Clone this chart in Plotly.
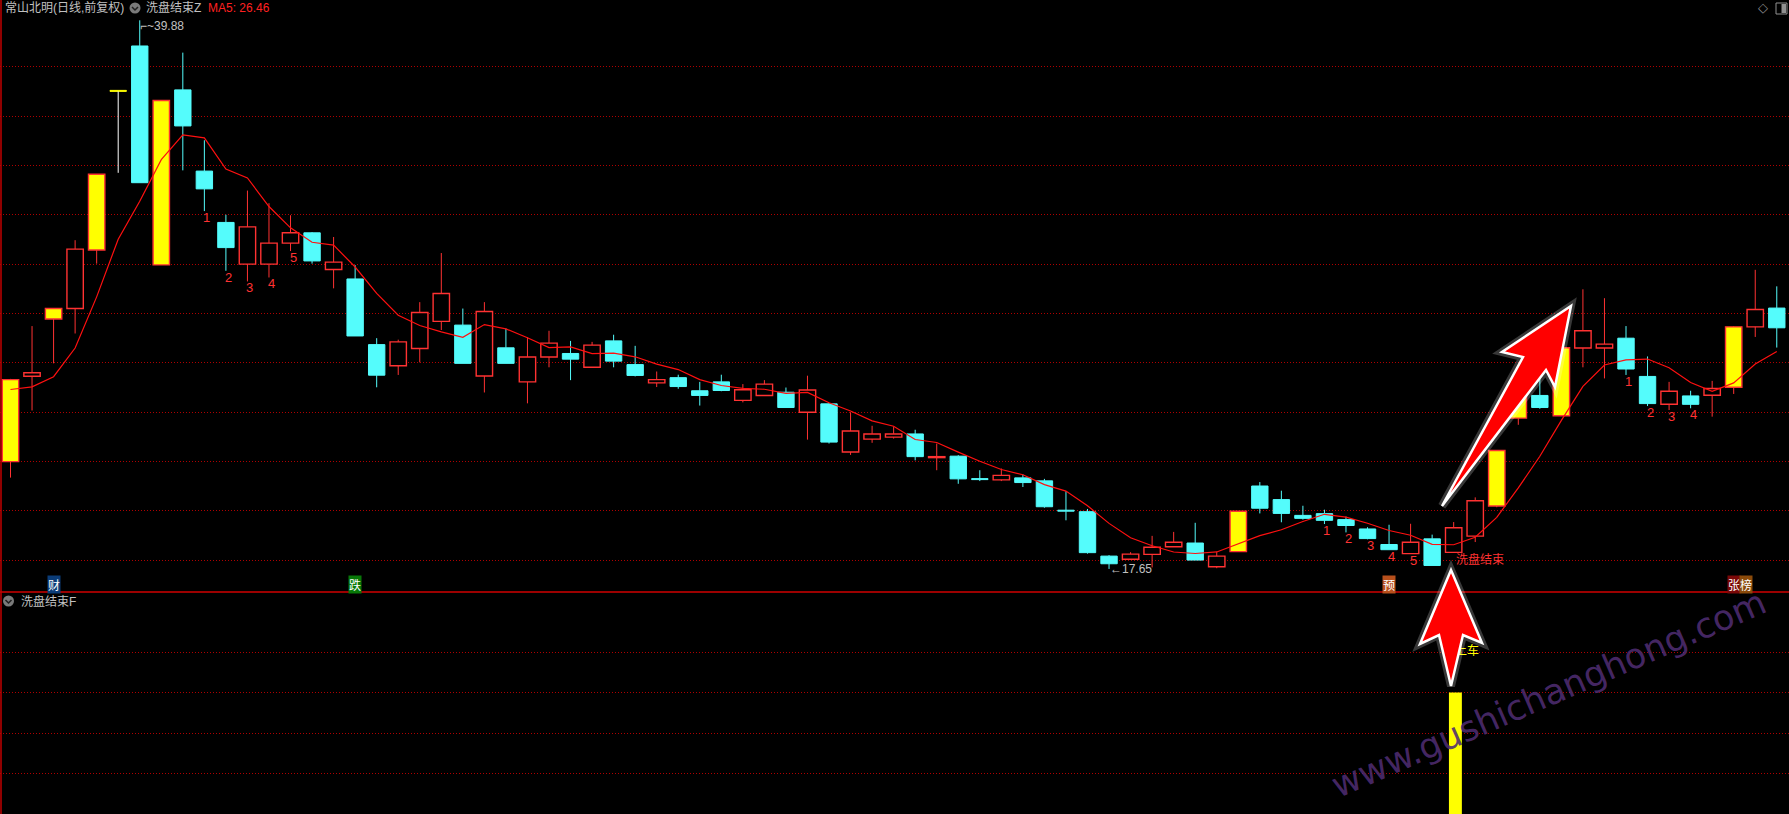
import numpy as np
import plotly.graph_objects as go

W, H = 1789, 814

# ---------------- data ----------------
open_ = [22.00, 25.46, 27.78, 28.20, 30.57, 37.00, 38.84, 29.97, 37.06, 33.77,
         31.69, 30.00, 30.00, 30.85, 31.27, 29.78, 29.40, 26.74, 25.88, 26.58,
         27.68, 27.53, 25.47, 26.61, 25.23, 26.24, 26.38, 25.82, 26.89, 25.93,
         25.19, 25.40, 24.87, 25.23, 24.48, 24.68, 24.81, 24.00, 24.34, 22.39,
         22.91, 22.99, 23.12, 22.16, 22.22, 21.29, 21.26, 21.34, 21.22, 20.02,
         19.97, 18.17, 18.04, 18.24, 18.55, 18.70, 17.74, 18.35, 21.01, 20.46,
         19.82, 19.89, 19.65, 19.27, 18.64, 18.27, 18.87, 18.32, 18.98, 20.20,
         23.76, 24.68, 23.86, 26.60, 26.60, 27.00, 25.45, 24.32, 24.66, 24.69,
         25.01, 27.46, 28.22]
high = [25.35, 27.49, 28.20, 30.97, 33.64, 37.00, 39.88, 36.63, 38.57, 35.02,
        32.00, 32.98, 32.47, 31.98, 31.30, 31.10, 29.96, 27.00, 26.94, 28.46,
        30.45, 28.20, 28.46, 27.39, 27.04, 27.30, 26.89, 26.85, 27.14, 26.69,
        25.65, 25.52, 25.23, 25.52, 25.14, 25.30, 25.00, 25.48, 24.36, 24.00,
        23.45, 23.42, 23.29, 22.73, 22.26, 21.65, 21.72, 21.48, 21.30, 20.80,
        20.08, 18.21, 18.33, 18.99, 19.15, 19.52, 18.35, 19.99, 21.17, 20.82,
        20.21, 20.05, 19.77, 19.34, 19.44, 19.48, 19.04, 19.55, 20.55, 22.45,
        24.70, 25.38, 26.61, 28.98, 28.62, 27.49, 26.26, 25.23, 24.87, 25.27,
        27.49, 29.77, 29.10]
low = [21.35, 24.07, 25.98, 27.19, 30.02, 33.70, 33.30, 29.97, 33.80, 32.15,
       29.73, 29.30, 29.46, 30.53, 30.02, 29.02, 27.09, 25.01, 25.51, 26.02,
       27.33, 25.98, 24.80, 25.98, 24.36, 25.82, 25.30, 25.82, 25.82, 25.45,
       25.02, 24.95, 24.27, 24.85, 24.40, 24.68, 24.19, 22.89, 22.73, 22.27,
       22.76, 22.93, 22.05, 21.65, 21.10, 21.21, 21.21, 20.97, 20.13, 19.62,
       18.27, 17.65, 18.04, 17.71, 18.55, 18.01, 17.68, 18.35, 19.90, 19.54,
       19.65, 19.47, 19.13, 18.85, 18.43, 18.27, 17.79, 18.32, 18.74, 20.15,
       23.49, 24.14, 23.86, 25.82, 25.37, 25.51, 24.25, 24.09, 24.16, 23.82,
       24.74, 27.05, 26.62]
close = [25.32, 25.60, 28.20, 30.61, 33.64, 37.00, 33.30, 36.63, 35.60, 33.05,
         30.67, 31.51, 30.85, 31.27, 30.13, 30.08, 27.09, 25.50, 26.85, 28.04,
         28.81, 25.98, 28.08, 25.98, 26.24, 26.80, 26.15, 26.72, 26.07, 25.49,
         25.32, 25.04, 24.68, 24.88, 24.91, 25.14, 24.19, 24.90, 22.79, 23.24,
         23.12, 23.12, 22.20, 22.18, 21.30, 21.27, 21.44, 21.15, 20.17, 19.99,
         18.31, 17.86, 18.25, 18.53, 18.73, 18.01, 18.17, 19.99, 20.11, 19.90,
         19.70, 19.62, 19.41, 18.88, 18.43, 18.73, 17.79, 19.32, 20.41, 22.45,
         24.70, 24.19, 26.61, 27.30, 26.76, 25.75, 24.35, 24.85, 24.32, 24.96,
         27.46, 28.16, 27.42]
prior_close = [25.05, 26.15, 24.81, 23.27]          # closes before the first bar (for MA5)
highlight_days = [0, 2, 4, 7, 57, 69, 70, 72, 80]   # yellow (limit-up) bars
count_idx = [9, 10, 11, 12, 13, 61, 62, 63, 64, 65, 75, 76, 77, 78]
count_txt = ['1', '2', '3', '4', '5', '1', '2', '3', '4', '5', '1', '2', '3', '4']
signal_idx = [2, 16, 64, 80]
signal_txt = ['财', '跌', '预', '张榜']
wash_idx = 67
wash_txt = '洗盘结束'
sub_idx = [67]
sub_val = [3]
sub_txt_val = 4
sub_txt = '上车'
title_txt = '常山北明(日线,前复权)'
ind_main = '洗盘结束Z'
ind_sub = '洗盘结束F'
watermark = 'www.gushichanghong.com'

# ---------------- styles ----------------
RED = '#ff3232'
CYAN = '#54fcfc'
YEL = '#ffff00'
GRID = '#b00000'
TXT = '#c0c0c0'

X0, DX = 10.5, 21.54
PPU = 24.68          # pixels per price unit
G38 = 66.7           # pixel row of price 38
SPLIT = 592          # pixel row of panel separator

def px(xp):
    return xp / W

def py(yp):
    return 1 - yp / H

o, h, l, c = map(np.array, (open_, high, low, close))
n = len(c)
xi = np.arange(n)
ma5 = np.convolve(np.concatenate([prior_close, c]), np.ones(5) / 5, mode='valid')

hl = set(highlight_days)
groups = {'up': [], 'down': [], 'yel': [], 'flat': []}
for i in range(n):
    if i in hl:
        groups['yel'].append(i)
    elif c[i] > o[i]:
        groups['up'].append(i)
    elif c[i] < o[i]:
        groups['down'].append(i)
    else:
        groups['flat'].append(i)

fig = go.Figure()

# wicks
wick = {RED: ([], []), CYAN: ([], []), '#ffffff': ([], [])}
for i in range(n):
    lo_b, hi_b = min(o[i], c[i]), max(o[i], c[i])
    if i in groups['down']:
        col = CYAN
    elif i in groups['flat']:
        col = '#ffffff'
    else:
        col = RED
    xs, ys = wick[col]
    if h[i] > hi_b:
        xs += [i, i, None]; ys += [hi_b, h[i], None]
    if l[i] < lo_b:
        xs += [i, i, None]; ys += [l[i], lo_b, None]
for col, (xs, ys) in wick.items():
    fig.add_trace(go.Scatter(x=xs, y=ys, mode='lines', line=dict(color=col, width=1),
                             hoverinfo='skip', showlegend=False))

body_style = {'up': ('#000000', RED, 1.4), 'down': (CYAN, CYAN, 1),
              'yel': (YEL, RED, 1.4), 'flat': (YEL, YEL, 1)}
for g, idx in groups.items():
    if not idx:
        continue
    idx = np.array(idx)
    lo_b = np.minimum(o[idx], c[idx])
    hgt = np.maximum(np.abs(c[idx] - o[idx]), 0.04)
    fc, lc, lw = body_style[g]
    fig.add_trace(go.Bar(x=idx, y=hgt, base=lo_b, width=0.76,
                         marker=dict(color=fc, line=dict(color=lc, width=lw)),
                         hoverinfo='skip', showlegend=False))

# MA5
fig.add_trace(go.Scatter(x=xi, y=ma5, mode='lines', line=dict(color='#ff1010', width=1.2),
                         hoverinfo='skip', showlegend=False))

# sub panel bar and its text (as trace text so the arrow covers it, like the original)
fig.add_trace(go.Bar(x=sub_idx, y=sub_val, width=0.6, offset=-0.22,
                     marker=dict(color=YEL, line=dict(width=0)),
                     xaxis='x2', yaxis='y2', hoverinfo='skip', showlegend=False))
fig.add_trace(go.Scatter(x=[sub_idx[0] + 0.06], y=[sub_txt_val], mode='text', text=[sub_txt],
                         textposition='middle right',
                         textfont=dict(color=YEL, size=12, family='Noto Sans CJK SC'),
                         xaxis='x2', yaxis='y2', hoverinfo='skip', showlegend=False))

ann = []
# count labels
for i, t in zip(count_idx, count_txt):
    ann.append(dict(x=i, y=l[i], xref='x', yref='y', text=t, showarrow=False,
                    xanchor='center', yanchor='top', xshift=2.5, yshift=3,
                    font=dict(color=RED, size=13, family='Liberation Sans')))
# high / low labels
ih, il = int(np.argmax(h)), int(np.argmin(l))
ann.append(dict(x=ih, y=h[ih], xref='x', yref='y', text=f'⌐~{h[ih]:.2f}', showarrow=False,
                xanchor='left', yanchor='top', xshift=-2, yshift=3,
                font=dict(color=TXT, size=12, family='Liberation Sans')))
ann.append(dict(x=il, y=l[il], xref='x', yref='y', text=f'←{l[il]:.2f}', showarrow=False,
                xanchor='left', yanchor='middle', xshift=-1,
                font=dict(color=TXT, size=12, family='Liberation Sans')))
# wash end label
ann.append(dict(x=wash_idx, y=l[wash_idx], xref='x', yref='y', text=wash_txt, showarrow=False,
                xanchor='left', yanchor='top', xshift=0, yshift=4,
                font=dict(color=RED, size=12, family='Noto Sans CJK SC')))
# signal markers
sig_bg = {'财': '#0b3c78', '跌': '#087808', '预': '#b8501c', '张': '#7a0808', '榜': '#8a4a0a'}
for i, t in zip(signal_idx, signal_txt):
    for k, ch in enumerate(t):
        ann.append(dict(x=i, y=py(584.5), xref='x', yref='paper', text=ch, showarrow=False,
                        xanchor='center', yanchor='middle', xshift=12.5 * k,
                        bgcolor=sig_bg.get(ch, '#444'), borderpad=0,
                        font=dict(color='#ffffff', size=12, family='Noto Sans CJK SC')))
# header
hdr_font = dict(color=TXT, size=12, family='Liberation Sans, Noto Sans CJK SC')
ann.append(dict(x=px(3), y=py(8), xref='paper', yref='paper', text=title_txt, showarrow=False,
                xanchor='left', yanchor='middle', font=hdr_font))
ann.append(dict(x=px(144), y=py(8), xref='paper', yref='paper', text=ind_main, showarrow=False,
                xanchor='left', yanchor='middle', font=hdr_font))
ann.append(dict(x=px(206), y=py(8), xref='paper', yref='paper', text=f'MA5: {ma5[-1]:.2f}',
                showarrow=False, xanchor='left', yanchor='middle',
                font=dict(color='#ff2020', size=12, family='Liberation Sans')))
ann.append(dict(x=px(19), y=py(601), xref='paper', yref='paper', text=ind_sub, showarrow=False,
                xanchor='left', yanchor='middle', font=hdr_font))
ann.append(dict(x=px(1763), y=py(8), xref='paper', yref='paper', text='◇', showarrow=False,
                xanchor='center', yanchor='middle', font=dict(color='#909090', size=13, family='DejaVu Sans')))
# watermark
ann.append(dict(x=px(1548), y=py(694), xref='paper', yref='paper', text=watermark, showarrow=False,
                textangle=-23.5, xanchor='center', yanchor='middle',
                font=dict(color='rgba(78,44,112,0.9)', size=35, family='DejaVu Sans')))

def path(pts):
    s = 'M ' + ' L '.join(f'{px(a):.5f},{py(b):.5f}' for a, b in pts) + ' Z'
    return s

shapes = []
# separator and left border
shapes.append(dict(type='line', xref='paper', yref='paper', x0=0, x1=1, y0=py(SPLIT), y1=py(SPLIT),
                   line=dict(color='#d00000', width=1.5)))
shapes.append(dict(type='line', xref='paper', yref='paper', x0=px(1), x1=px(1), y0=0, y1=1,
                   line=dict(color='#c00000', width=1.5)))
# header icons
for cx, cy in [(135, 8), (8.5, 601)]:
    shapes.append(dict(type='circle', xref='paper', yref='paper', x0=px(cx - 5.5), x1=px(cx + 5.5),
                       y0=py(cy + 5.5), y1=py(cy - 5.5), fillcolor='#7a7a7a', line=dict(width=0)))
    shapes.append(dict(type='path', xref='paper', yref='paper',
                       path=f'M {px(cx-3):.5f},{py(cy-1):.5f} L {px(cx):.5f},{py(cy+2):.5f} L {px(cx+3):.5f},{py(cy-1):.5f}',
                       line=dict(color='#202020', width=1.5)))
shapes.append(dict(type='rect', xref='paper', yref='paper', x0=px(1776), x1=px(1787), y0=py(14), y1=py(3),
                   line=dict(color='#909090', width=1)))
shapes.append(dict(type='rect', xref='paper', yref='paper', x0=px(1781.5), x1=px(1786), y0=py(13), y1=py(4),
                   fillcolor='#909090', line=dict(width=0)))
# arrows
diag = [(1442, 506), (1523, 357), (1502, 352), (1571, 306), (1555, 387), (1546, 370)]
vert = [(1451, 570), (1482, 643), (1463, 635), (1451, 686), (1439, 635), (1420, 644)]
for pts in (diag, vert):
    shapes.append(dict(type='path', xref='paper', yref='paper', path=path(pts),
                       line=dict(color='rgba(255,255,255,0.22)', width=8), fillcolor='rgba(0,0,0,0)'))
    shapes.append(dict(type='path', xref='paper', yref='paper', path=path(pts),
                       line=dict(color='#ffffff', width=2.5), fillcolor='#ff0000'))

yr_top = [38 - (SPLIT - G38) / PPU, 38 + G38 / PPU]
xr = [-X0 / DX, (W - X0) / DX]

fig.update_layout(
    width=W, height=H, margin=dict(l=0, r=0, t=0, b=0),
    paper_bgcolor='#000000', plot_bgcolor='#000000',
    barmode='overlay', showlegend=False, dragmode=False,
    xaxis=dict(range=xr, domain=[0, 1], showgrid=False, zeroline=False, showticklabels=False,
               ticks='', fixedrange=True, anchor='y'),
    yaxis=dict(range=yr_top, domain=[1 - SPLIT / H, 1], tickvals=list(range(18, 40, 2)),
               showgrid=True, gridcolor=GRID, griddash='1px,2px', gridwidth=1,
               zeroline=False, showticklabels=False, ticks='', fixedrange=True),
    xaxis2=dict(range=xr, domain=[0, 1], showgrid=False, zeroline=False, showticklabels=False,
                ticks='', fixedrange=True, anchor='y2', matches='x'),
    yaxis2=dict(range=[0, (H - SPLIT) / 40.5], domain=[0, 1 - SPLIT / H], tickvals=[1, 2, 3, 4],
                showgrid=True, gridcolor=GRID, griddash='1px,2px', gridwidth=1,
                zeroline=False, showticklabels=False, ticks='', fixedrange=True),
    annotations=ann, shapes=shapes,
)

fig.write_html("out.html", config={'displayModeBar': False},
               post_script="document.body.style.margin='0';document.body.style.overflow='hidden';")
